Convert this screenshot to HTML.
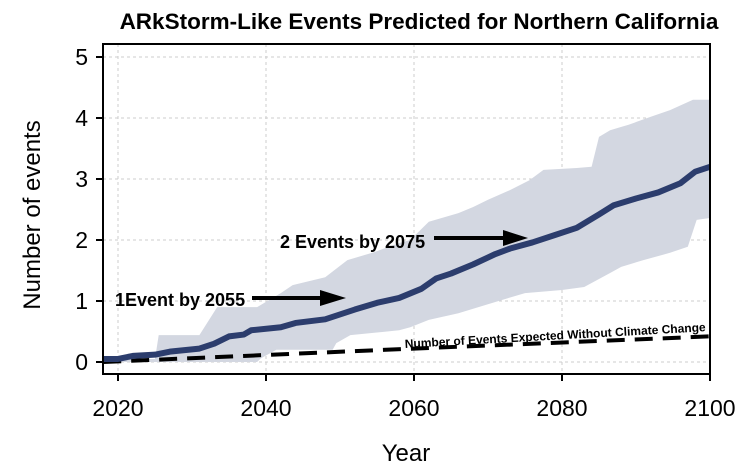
<!DOCTYPE html>
<html><head><meta charset="utf-8"><style>
body{margin:0;background:#fff;}
svg{display:block;font-family:"Liberation Sans",Arial,sans-serif;}
</style></head><body>
<svg id="chart" width="752" height="470"></svg>
<script>
const years=[2018,2020,2022,2025,2027,2031,2033,2035,2037,2038,2042,2044,2048,2052,2055,2058,2061,2063,2065,2068,2071,2073,2076,2079,2082,2085,2087,2090,2093,2096,2098,2100];
const meanValues=[0.05,0.05,0.1,0.12,0.17,0.22,0.3,0.42,0.45,0.52,0.57,0.64,0.7,0.86,0.97,1.05,1.2,1.37,1.45,1.6,1.77,1.86,1.96,2.08,2.2,2.42,2.57,2.68,2.78,2.93,3.12,3.2];
const upperYears=[2018,2025,2025.5,2031,2033.4,2038.8,2042,2043.6,2048,2051,2054.6,2058,2059.5,2062,2066,2068,2070,2073,2075.6,2077.5,2082,2084,2085,2086.5,2089,2092,2094.6,2097.7,2100];
const upperValues=[0.05,0.05,0.44,0.44,0.9,0.9,1.13,1.26,1.39,1.67,1.8,1.95,2.0,2.3,2.44,2.54,2.66,2.82,2.98,3.15,3.18,3.2,3.69,3.8,3.89,4.02,4.13,4.3,4.3];
const lowerYears=[2018,2038.8,2039.3,2041.4,2049,2049.5,2051.4,2058,2059.5,2062,2066,2070.6,2075,2080,2083,2086.5,2088,2091,2094.6,2097,2098.2,2100];
const lowerValues=[0.0,0.0,0.06,0.2,0.2,0.31,0.44,0.52,0.57,0.69,0.8,0.97,1.13,1.18,1.23,1.46,1.56,1.67,1.79,1.89,2.33,2.36];
const baseYears=[2018,2060,2100];
const baseValues=[0.0,0.22,0.42];
const xTicks=[2020,2040,2060,2080,2100];
const yTicks=[0,1,2,3,4,5];

const NS="http://www.w3.org/2000/svg";
const svg=document.getElementById('chart');
const X=y=>118+(y-2020)*7.4;
const Y=v=>362-v*61;
function mk(t,a,p){const e=document.createElementNS(NS,t);for(const k in a)e.setAttribute(k,a[k]);(p||svg).appendChild(e);return e;}
const L=103,R=710,T=44,B=374;
xTicks.forEach(t=>{const g=mk('line',{x1:X(t),x2:X(t),y1:T,y2:B,stroke:'#ccc','stroke-dasharray':'3,3'});

});
yTicks.forEach(t=>{const g=mk('line',{x1:L,x2:R,y1:Y(t),y2:Y(t),stroke:'#ccc','stroke-dasharray':'3,3'});

});
let d='';
upperYears.forEach((y,i)=>{d+=(i?'L':'M')+X(y)+','+Y(upperValues[i]);});
for(let i=lowerYears.length-1;i>=0;i--)d+='L'+X(lowerYears[i])+','+Y(lowerValues[i]);
const band=mk('path',{d:d+'Z',fill:'#d3d7e1'});


const bl=mk('polyline',{points:baseYears.map((y,i)=>X(y)+','+Y(baseValues[i])).join(' '),fill:'none',stroke:'#000','stroke-width':4,'stroke-dasharray':'18,10'});


const ml=mk('polyline',{points:years.map((y,i)=>X(y)+','+Y(meanValues[i])).join(' '),fill:'none',stroke:'#2c3d6d','stroke-width':6,'stroke-linejoin':'round'});


const bx=mk('rect',{x:L,y:T,width:R-L,height:B-T,fill:'none',stroke:'#000','stroke-width':2});


xTicks.forEach(t=>{mk('line',{x1:X(t),x2:X(t),y1:B,y2:B+7,stroke:'#000','stroke-width':2});
const tx=mk('text',{x:X(t),y:416,'text-anchor':'middle','font-size':23});tx.textContent=t;

});
yTicks.forEach(t=>{mk('line',{x1:L,x2:L-7,y1:Y(t),y2:Y(t),stroke:'#000','stroke-width':2});
const tx=mk('text',{x:88,y:Y(t)+8,'text-anchor':'end','font-size':23});tx.textContent=t;

});
</script>
<svg style="position:absolute;left:0;top:0" width="752" height="470" font-family="Liberation Sans, Arial, sans-serif">
<text x="419" y="29" text-anchor="middle" font-size="22.5" font-weight="bold">ARkStorm-Like Events Predicted for Northern California</text>
<text x="406" y="461" text-anchor="middle" font-size="24">Year</text>
<text transform="translate(40,215) rotate(-90)" text-anchor="middle" font-size="24">Number of events</text>
<text x="280" y="248" font-size="18" font-weight="bold">2 Events by 2075</text>
<g><line x1="434" y1="238" x2="505" y2="238" stroke="#000" stroke-width="4"/><path d="M503,230 L528,238 L503,246 Z"/></g>
<text x="115" y="306" font-size="18" font-weight="bold">1Event by 2055</text>
<g><line x1="252" y1="298" x2="322" y2="298" stroke="#000" stroke-width="4"/><path d="M320,290 L346,298 L320,306 Z"/></g>
<text transform="translate(405,348) rotate(-3.2)" font-size="12" font-weight="bold">Number of Events Expected Without Climate Change</text>
</svg>
</body></html>
